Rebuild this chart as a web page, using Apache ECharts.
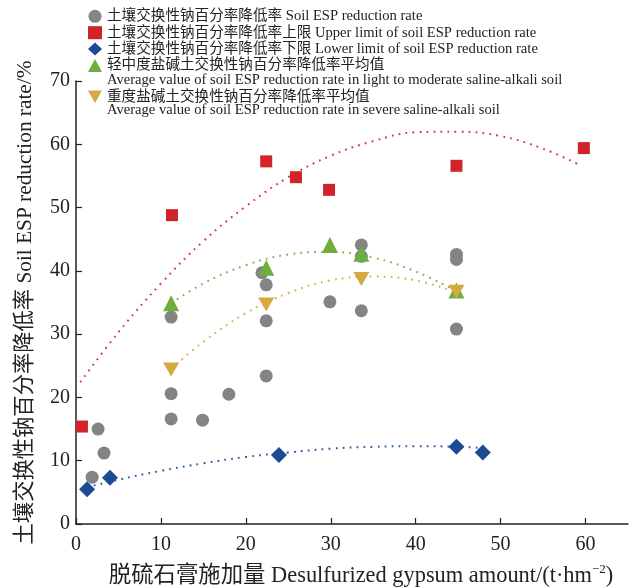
<!DOCTYPE html>
<html>
<head>
<meta charset="utf-8">
<script src="https://cdn.jsdelivr.net/npm/echarts@6/dist/echarts.min.js"></script>
<style>html,body{margin:0;padding:0;background:#fff}#c{width:634px;height:587px}</style>
</head>
<body>
<div id="c"></div>
<script>
// ---- data ----
const xTicks = [0, 10, 20, 30, 40, 50, 60];
const yTicks = [0, 10, 20, 30, 40, 50, 60, 70];

const soilX = [1.9, 2.6, 3.3, 11.2, 11.2, 11.2, 14.9, 18.0, 21.9, 22.4, 22.4, 22.4, 29.9, 33.6, 33.6, 33.6, 44.8, 44.8, 44.8];
const soilY = [7.4, 15.0, 11.2, 32.7, 20.6, 16.6, 16.4, 20.5, 39.7, 37.8, 32.1, 23.4, 35.1, 44.1, 42.3, 33.7, 42.6, 41.8, 30.8];

const upperX = [0.7, 11.3, 22.4, 25.9, 29.8, 44.8, 59.8];
const upperY = [15.4, 48.8, 57.3, 54.8, 52.8, 56.6, 59.4];

const lowerX = [1.3, 4.0, 23.9, 44.8, 47.9];
const lowerY = [5.5, 7.3, 10.9, 12.2, 11.3];

const lightX = [11.2, 22.4, 29.9, 33.6, 44.8];
const lightY = [34.9, 40.5, 44.1, 42.7, 36.9];

const severeX = [11.2, 22.4, 33.6, 44.8];
const severeY = [24.4, 34.7, 38.7, 36.7];

// dotted trend curves
const upperTrendX = [0.5, 5, 10, 15, 20, 25, 30, 35, 40, 45, 50, 55, 59.2];
const upperTrendY = [22.4, 30.3, 38.0, 44.7, 50.2, 54.8, 58.2, 60.5, 61.9, 62.0, 61.3, 59.3, 56.8];
const lowerTrendX = [1.3, 5, 10, 15, 20, 25, 30, 35, 40, 45, 48];
const lowerTrendY = [5.8, 7.0, 8.4, 9.6, 10.6, 11.3, 11.9, 12.2, 12.3, 12.2, 12.0];
const lightTrendX = [11.2, 15, 20, 25, 30, 35, 40, 44.8];
const lightTrendY = [34.9, 38.0, 40.9, 42.6, 43.0, 42.1, 39.9, 36.8];
const severeTrendX = [11.2, 15, 20, 25, 30, 35, 40, 44.8];
const severeTrendY = [24.5, 28.8, 33.3, 36.5, 38.5, 39.1, 38.5, 36.6];

const names = [
  '土壤交换性钠百分率降低率 Soil ESP reduction rate',
  '土壤交换性钠百分率降低率上限 Upper limit of soil ESP reduction rate',
  '土壤交换性钠百分率降低率下限 Lower limit of soil ESP reduction rate',
  '轻中度盐碱土交换性钠百分率降低率平均值',
  '重度盐碱土交换性钠百分率降低率平均值'
];
const englishLines = [
  'Average value of soil ESP reduction rate in light to moderate saline-alkali soil',
  'Average value of soil ESP reduction rate in severe saline-alkali soil'
];

const C = { gray: '#848484', red: '#d2222a', blue: '#1c4b92', green: '#6eae3f', orange: '#d5a842' };
const FONT = '"Liberation Serif", "Noto Sans CJK SC", serif';
const LEG_FS = 14.6;

const zip = (xs, ys) => xs.map((x, i) => [x, ys[i]]);

function trend(xs, ys, color) {
  return {
    type: 'line', data: zip(xs, ys), smooth: 0.4, symbol: 'none', silent: true, z: 1,
    lineStyle: { color: color, width: 2, type: [1.8, 5.2], opacity: 0.9 }
  };
}
function pts(name, xs, ys, symbol, size, color) {
  return { name: name, type: 'scatter', data: zip(xs, ys), symbol: symbol, symbolSize: size,
    itemStyle: { color: color, opacity: 1 }, z: 3 };
}

const chart = echarts.init(document.getElementById('c'), null, { renderer: 'canvas' });
chart.setOption({
  animation: false,
  backgroundColor: '#fff',
  textStyle: { fontFamily: FONT },
  grid: { left: 76, right: 6, top: 81, bottom: 63, containLabel: false, outerBoundsMode: 'none' },
  xAxis: {
    type: 'value', min: 0, max: 65, interval: 10,
    name: '{a|脱硫石膏施加量 Desulfurized gypsum amount/(t·hm}{s|−2}{a|)}',
    nameLocation: 'middle', nameGap: 39,
    nameTextStyle: {
      padding: [0, 0, 0, 18],
      rich: {
        a: { fontFamily: FONT, fontSize: 22.4, color: '#222', lineHeight: 24, verticalAlign: 'bottom' },
        s: { fontFamily: FONT, fontSize: 13, color: '#222', lineHeight: 24, verticalAlign: 'top' }
      }
    },
    axisLine: { lineStyle: { color: '#222', width: 1.5 } },
    axisTick: { inside: true, length: 6, lineStyle: { color: '#222', width: 1.2 }, customValues: xTicks },
    axisLabel: { fontFamily: FONT, fontSize: 20, color: '#222', margin: 11, customValues: xTicks },
    splitLine: { show: false }
  },
  yAxis: {
    type: 'value', min: 0, max: 70, interval: 10,
    name: '土壤交换性钠百分率降低率 Soil ESP reduction rate/%',
    nameLocation: 'middle', nameGap: 40,
    nameTextStyle: { fontFamily: FONT, fontSize: 21.3, color: '#222' },
    axisLine: { show: true, lineStyle: { color: '#222', width: 1.5 } },
    axisTick: { show: true, inside: true, length: 6, lineStyle: { color: '#222', width: 1.2 }, customValues: yTicks },
    axisLabel: { fontFamily: FONT, fontSize: 20, color: '#222', margin: 6, customValues: yTicks },
    splitLine: { show: false }
  },
  legend: [
    {
      data: names.slice(0, 4), orient: 'vertical', left: 88, top: 9,
      itemWidth: 14, itemHeight: 13, itemGap: 1.8, padding: 0,
      textStyle: { fontFamily: FONT, fontSize: LEG_FS, color: '#222' }
    },
    {
      data: names.slice(4), orient: 'vertical', left: 88, top: 89.5,
      itemWidth: 14, itemHeight: 13, itemGap: 1.8, padding: 0,
      textStyle: { fontFamily: FONT, fontSize: LEG_FS, color: '#222' }
    }
  ],
  graphic: [
    { type: 'text', left: 107, top: 72.5, silent: true,
      style: { text: englishLines[0], font: LEG_FS + 'px ' + FONT, fill: '#222' } },
    { type: 'text', left: 107, top: 102.5, silent: true,
      style: { text: englishLines[1], font: LEG_FS + 'px ' + FONT, fill: '#222' } }
  ],
  series: [
    trend(upperTrendX, upperTrendY, C.red),
    trend(lowerTrendX, lowerTrendY, C.blue),
    trend(lightTrendX, lightTrendY, C.green),
    trend(severeTrendX, severeTrendY, C.orange),
    pts(names[0], soilX, soilY, 'circle', 13, C.gray),
    pts(names[1], upperX, upperY, 'rect', 12, C.red),
    pts(names[2], lowerX, lowerY, 'diamond', 16, C.blue),
    pts(names[3], lightX, lightY, 'triangle', 16, C.green),
    pts(names[4], severeX, severeY, 'path://M0,0 L10,0 L5,9 Z', [16, 14], C.orange)
  ]
});
</script>
</body>
</html>
